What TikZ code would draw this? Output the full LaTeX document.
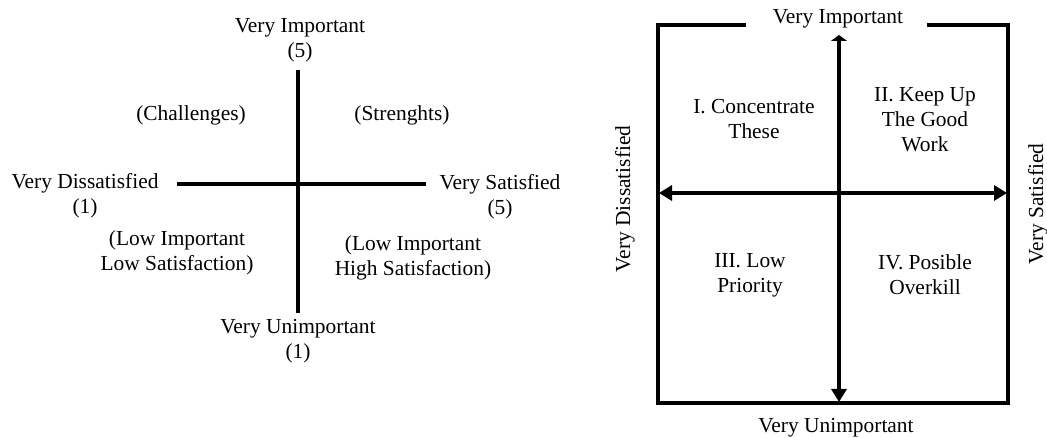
\documentclass[tikz,border=0pt]{standalone}
\usepackage{fontspec}
\setmainfont{Liberation Serif}
\usetikzlibrary{arrows.meta}
\begin{document}
\begin{tikzpicture}[x=1bp,y=-1bp,
  lbl/.style={inner sep=0pt,align=center,font=\fontsize{21.5}{25}\selectfont},
  axis/.style={line width=4bp},
  boxline/.style={line width=4bp,line join=miter}]
\useasboundingbox (0,0) rectangle (1047,438);
% ---------- left diagram ----------
\coordinate (vt) at (298,70);
\coordinate (vb) at (298,313);
\coordinate (hl) at (177,184);
\coordinate (hr) at (426,184);
\draw[axis] (vt) -- (vb);
\draw[axis] (hl) -- (hr);
\node[lbl] (li) at (300,40) {Very Important\\(5)};
\node[lbl] (lch) at (191,115) {(Challenges)};
\node[lbl] (lst) at (402,115) {(Strenghts)};
\node[lbl] (ld) at (85,196) {Very Dissatisfied\\(1)};
\node[lbl] (ls) at (500,197) {Very Satisfied\\(5)};
\node[lbl] (lll) at (177,253) {(Low Important\\Low Satisfaction)};
\node[lbl] (llh) at (413,258) {(Low Important\\High Satisfaction)};
\node[lbl] (lu) at (298,341) {Very Unimportant\\(1)};
% ---------- right diagram ----------
\coordinate (tl) at (746,25);
\coordinate (c1) at (658,25);
\coordinate (c2) at (658,403);
\coordinate (c3) at (1008,403);
\coordinate (c4) at (1008,25);
\coordinate (tr) at (927,25);
\draw[boxline] (tl) -- (c1) -- (c2) -- (c3) -- (c4) -- (tr);
\coordinate (at) at (839,35);
\coordinate (ab) at (839,402);
\coordinate (al) at (659,193);
\coordinate (ar) at (1007,193);
\draw[line width=4bp,{Triangle[length=6bp,width=16bp]}-{Triangle[length=13bp,width=15bp]}] (at) -- (ab);
\draw[line width=4bp,{Triangle[length=13bp,width=15bp]}-{Triangle[length=13bp,width=15bp]}] (al) -- (ar);
\node[lbl] (ri) at (838,19) {Very Important};
\node[lbl] (ru) at (836,428) {Very Unimportant};
\node[lbl,rotate=90] (rd) at (625,199) {Very Dissatisfied};
\node[lbl,rotate=90] (rs) at (1038,204) {Very Satisfied};
\node[lbl] (q1) at (754,119) {I. Concentrate\\These};
\node[lbl] (q2) at (925,120) {II. Keep Up\\The Good\\Work};
\node[lbl] (q3) at (750,275) {III. Low\\Priority};
\node[lbl] (q4) at (925,275) {IV. Posible\\Overkill};
\end{tikzpicture}
\end{document}
